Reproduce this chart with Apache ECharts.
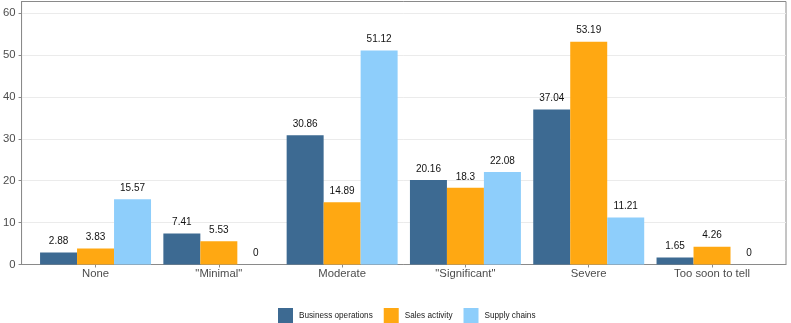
<!DOCTYPE html>
<html>
<head>
<meta charset="utf-8">
<script src="https://cdn.jsdelivr.net/npm/echarts@6/dist/echarts.min.js"></script>
<style>
  html, body { margin: 0; padding: 0; background: #fff; }
  #chart { width: 791px; height: 323px; }
</style>
</head>
<body>
<div id="chart"></div>
<script>
const categories = ['None', '"Minimal"', 'Moderate', '"Significant"', 'Severe', 'Too soon to tell']
const businessOperations = [2.88, 7.41, 30.86, 20.16, 37.04, 1.65]
const salesActivity = [3.83, 5.53, 14.89, 18.3, 53.19, 4.26]
const supplyChains = [15.57, 0, 51.12, 22.08, 11.21, 0]
const yTicks = [0, 10, 20, 30, 40, 50, 60]

const seriesDefs = [
  { name: 'Business operations', color: '#3d6a92', values: businessOperations },
  { name: 'Sales activity', color: '#ffa812', values: salesActivity },
  { name: 'Supply chains', color: '#8ecefb', values: supplyChains }
]

const positions = categories.map((_, i) => i)
const font = 'Liberation Sans, Arial, sans-serif'
const frame = '#8a8a8a'

const chart = echarts.init(document.getElementById('chart'))

chart.setOption({
  animation: false,
  backgroundColor: '#fff',
  grid: {
    show: true,
    left: 18,
    top: 1.5,
    width: 768,
    height: 263,
    borderColor: frame,
    borderWidth: 1,
    containLabel: false
  },
  legend: {
    left: 278,
    top: 308,
    padding: 0,
    itemWidth: 15,
    itemHeight: 15,
    itemGap: 11,
    icon: 'rect',
    textStyle: { fontFamily: font, fontSize: 8.2, color: '#1a1a1a', padding: [0, 0, 0, 1] },
    data: seriesDefs.map((s) => s.name)
  },
  xAxis: {
    type: 'value',
    min: -0.6,
    max: 5.6,
    splitLine: { show: false },
    axisLine: { show: true, onZero: false, lineStyle: { color: frame } },
    axisTick: { show: true, length: 3, customValues: positions, lineStyle: { color: frame } },
    axisLabel: {
      customValues: positions,
      formatter: (v) => categories[Math.round(v)],
      color: '#4d4d4d',
      fontFamily: font,
      fontSize: 11.3,
      margin: 4
    }
  },
  yAxis: {
    type: 'value',
    min: 0,
    max: 62.8,
    axisLine: { show: true, onZero: false, lineStyle: { color: frame } },
    axisTick: { show: true, length: 3, customValues: yTicks, lineStyle: { color: frame } },
    axisLabel: {
      customValues: yTicks,
      color: '#4d4d4d',
      fontFamily: font,
      fontSize: 11.3,
      margin: 6
    },
    splitLine: { show: true, lineStyle: { color: '#ebebeb', width: 1 } }
  },
  series: seriesDefs.map((s) => ({
    name: s.name,
    type: 'bar',
    barGap: '0%',
    barCategoryGap: '10%',
    itemStyle: { color: s.color },
    label: {
      show: true,
      position: 'top',
      distance: 6,
      color: '#111',
      fontFamily: font,
      fontSize: 10
    },
    data: s.values.map((v, i) => [positions[i], v])
  }))
})
</script>
</body>
</html>
